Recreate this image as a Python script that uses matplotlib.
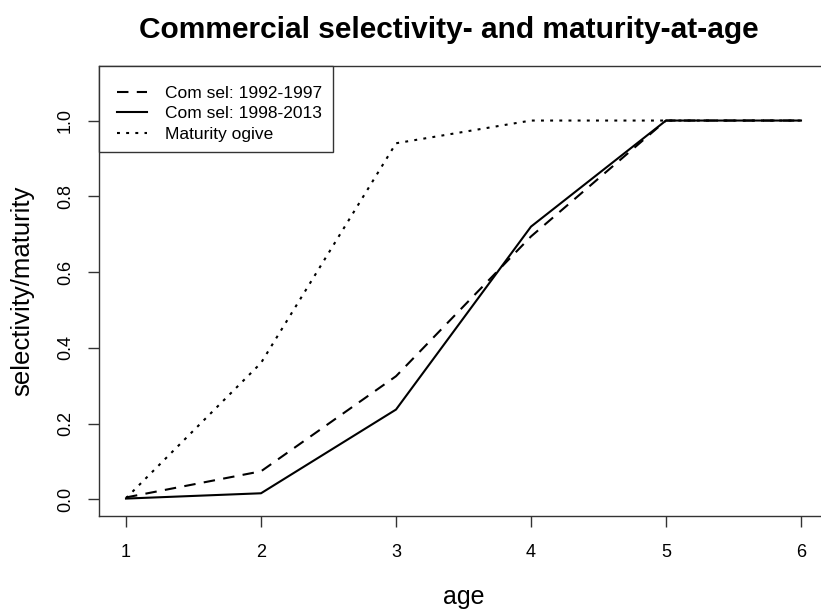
import matplotlib
matplotlib.use("Agg")
import matplotlib.pyplot as plt
from matplotlib.legend_handler import HandlerLine2D

# selectivity / maturity at age
ages = [1, 2, 3, 4, 5, 6]
sel_1992_1997 = [0.005, 0.074, 0.325, 0.694, 1.0, 1.0]
sel_1998_2013 = [0.002, 0.016, 0.237, 0.72, 1.0, 1.0]
maturity = [0.003, 0.36, 0.94, 1.0, 1.0, 1.0]

labels = ["Com sel: 1992-1997", "Com sel: 1998-2013", "Maturity ogive"]
x_ticks = [1, 2, 3, 4, 5, 6]
y_ticks = [0.0, 0.2, 0.4, 0.6, 0.8, 1.0]

plt.rcParams["font.family"] = ["Liberation Sans", "DejaVu Sans"]


class InsetLineHandler(HandlerLine2D):
    # R legends leave a gap left of the line key
    def get_xdata(self, legend, xdescent, ydescent, width, height, fontsize):
        xd, xm = super().get_xdata(legend, xdescent, ydescent, width, height, fontsize)
        start = -xdescent + 0.2 * width
        xd = [start, -xdescent + width]
        return xd, xm


W, H = 821, 612
fig = plt.figure(figsize=(W / 100, H / 100), dpi=100)
# plot frame in pixels: left 99, right 828 (cut off), top 66, bottom 516
ax = fig.add_axes([99 / W, (H - 516) / H, (828 - 99) / W, (516 - 66) / H])

lw = 1.5
l1, = ax.plot(ages, sel_1992_1997, color="black", lw=lw, dashes=(5.5, 4), label=labels[0])
l2, = ax.plot(ages, sel_1998_2013, color="black", lw=lw, ls="-", label=labels[1])
l3, = ax.plot(ages, maturity, color="black", lw=lw, dashes=(1.4, 3.0), label=labels[2])

ax.set_xlim(0.8, 6.2)
ax.set_ylim(-0.044, 1.144)
ax.set_xticks(x_ticks)
ax.set_xticklabels([str(v) for v in x_ticks])
ax.set_yticks(y_ticks)
ax.set_yticklabels([f"{v:.1f}" for v in y_ticks], rotation=90, va="center")
ax.tick_params(axis="both", length=8, width=1, labelsize=13, color="#333333")
ax.tick_params(axis="x", pad=12)
ax.tick_params(axis="y", pad=10)
for s in ax.spines.values():
    s.set_linewidth(1)
    s.set_color("#333333")

ax.set_xlabel("age", fontsize=18, va="center")
ax.xaxis.set_label_coords(0.5, (516 - 597) / 450)
ax.set_ylabel("selectivity/maturity", fontsize=18.5, va="center")
ax.yaxis.set_label_coords((22 - 99) / 729, 0.5)

fig.text(449 / W, 1 - 30 / H, "Commercial selectivity- and maturity-at-age",
         ha="center", va="center", fontsize=21.5, fontweight="bold")

handler = InsetLineHandler()
leg = ax.legend(loc="upper left", borderaxespad=0, fancybox=False, framealpha=1,
                edgecolor="#333333", fontsize=12.5, handlelength=2.16,
                handletextpad=1.04, labelspacing=0.31, borderpad=0.6,
                title=" ", title_fontsize=2,
                handler_map={l1: handler, l2: handler, l3: handler})
leg.get_frame().set_linewidth(1)

fig.savefig("out.png", dpi=100)
